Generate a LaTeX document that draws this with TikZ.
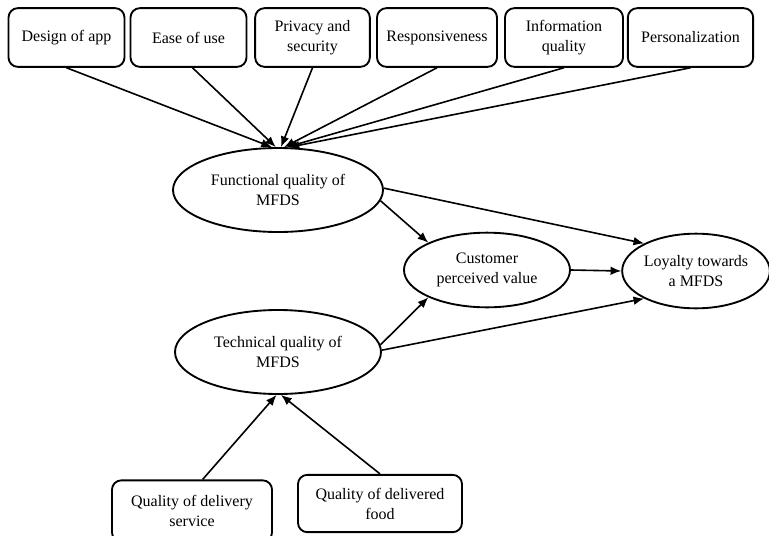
\documentclass[tikz,border=0pt]{standalone}
\usepackage{fontspec}
\setmainfont{Liberation Serif}
\usetikzlibrary{shapes.geometric,arrows.meta}

\tikzset{
  facteur/.style={draw, line width=1.4pt, rounded corners=7pt, align=center,
    minimum width=87pt, minimum height=44pt, inner sep=2pt},
  construit/.style={draw, ellipse, line width=1.4pt, align=center, inner sep=0pt},
  lien/.style={line width=1.2pt, -{Latex[length=8pt,width=6.5pt]}}
}

\begin{document}
\begin{tikzpicture}[x=0.75pt, y=-0.75pt, font=\fontsize{12}{15}\selectfont]

    \useasboundingbox (0,0) rectangle (769,536);

    % Les facteurs du haut
    \node[facteur] (design) at (66.5, 37.5) {Design of app};
    \node[facteur] (ease) at (188.5, 37.5) {Ease of use};
    \node[facteur, minimum width=86pt] (privacy) at (312.5, 37.5) {Privacy and\\security};
    \node[facteur, minimum width=90pt] (respons) at (437, 37.5) {Responsiveness};
    \node[facteur, minimum width=88.5pt] (info) at (564, 37.5) {Information\\quality};
    \node[facteur, minimum width=94pt] (perso) at (690.5, 37.5) {Personalization};

    % Les construits
    \node[construit, minimum width=157.5pt, minimum height=63pt] (func) at (278, 190) {Functional quality of\\MFDS};
    \node[construit, minimum width=154.5pt, minimum height=63pt] (tech) at (278, 352) {Technical quality of\\MFDS};
    \node[construit, minimum width=124.5pt, minimum height=56pt] (value) at (487, 270) {Customer\\perceived value};
    \node[construit, minimum width=109.5pt, minimum height=56pt] (loyal) at (696, 271) {Loyalty towards\\a MFDS};

    % Les facteurs du bas
    \node[facteur, minimum width=120pt, minimum height=46pt] (service) at (192, 511) {Quality of delivery\\service};
    \node[facteur, minimum width=123pt, minimum height=43pt] (food) at (380, 503.5) {Quality of delivered\\food};

    % Fleches vers la qualite fonctionnelle
    \draw[lien] (design.south) -- (func.98);
    \draw[lien] ([xshift=3pt]ease.south) -- (func.93);
    \draw[lien] (privacy.south) -- (func.86);
    \draw[lien] (respons.south) -- (func.82);
    \draw[lien] (info.south) -- (func.79);
    \draw[lien] (perso.south) -- (func.76);

    % Fleches vers la qualite technique
    \draw[lien] ([xshift=8pt]service.north) -- (tech.268);
    \draw[lien] (food.north) -- (tech.274);

    % Les relations entre construits
    \draw[lien] (func.-6) -- (value.155);
    \draw[lien] (func.1) -- (loyal.152);
    \draw[lien] (tech.4) -- (value.205);
    \draw[lien] (tech.1) -- (loyal.208);
    \draw[lien] (value.east) -- (loyal.west);

\end{tikzpicture}
\end{document}
